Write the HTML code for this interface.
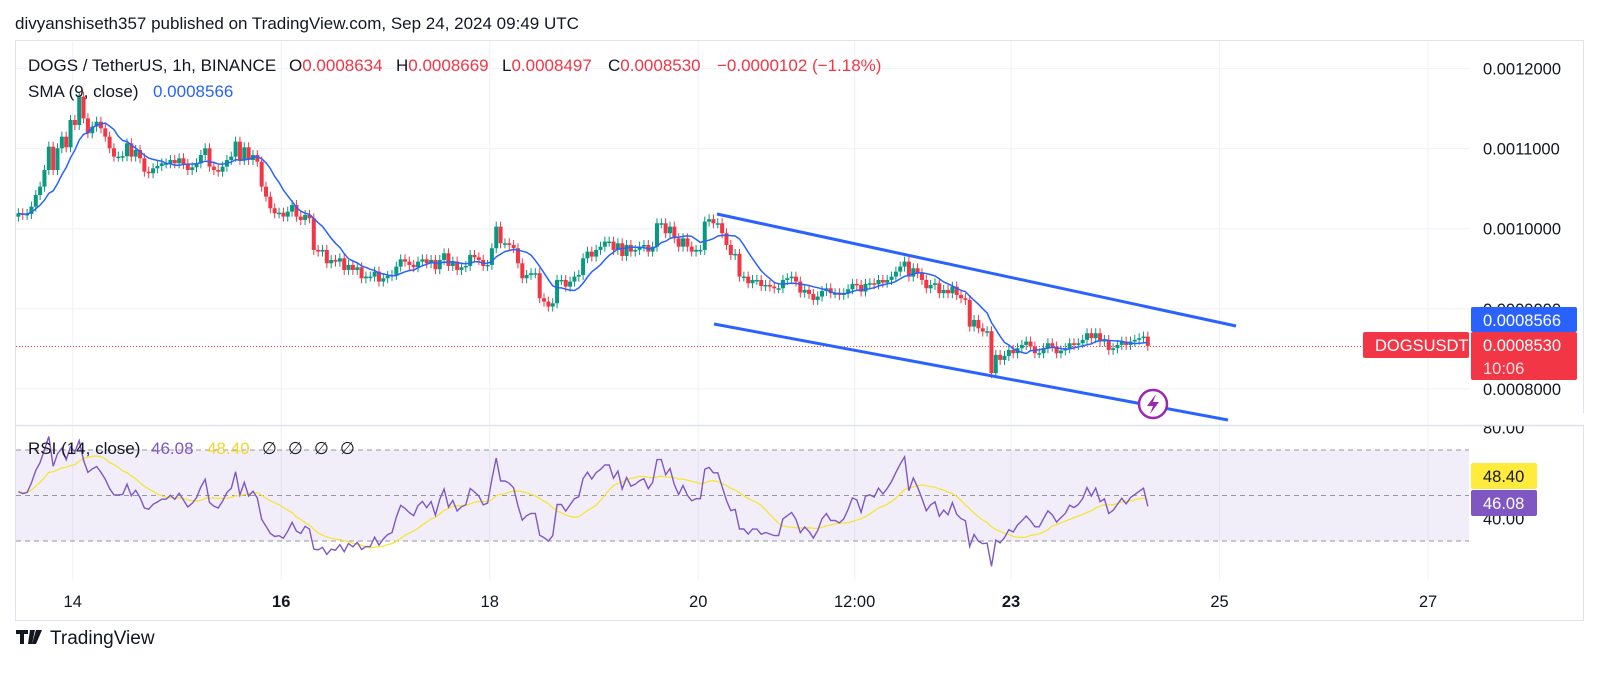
<!DOCTYPE html>
<html><head><meta charset="utf-8"><style>
html,body{margin:0;padding:0;background:#fff;}
svg{display:block;font-family:"Liberation Sans",sans-serif;}
</style></head><body>
<svg id="chart" width="1600" height="674" viewBox="0 0 1600 674" xmlns="http://www.w3.org/2000/svg">
<rect width="1600" height="674" fill="#fff"/>
<text x="15" y="29" font-size="17" fill="#131722">divyanshiseth357 published on TradingView.com, Sep 24, 2024 09:49 UTC</text>
<rect x="15.5" y="40.5" width="1568" height="580" fill="none" stroke="#e0e3eb"/>
<g id="grid"></g>
<rect x="16" y="450" width="1453" height="91" fill="rgba(126,87,194,0.1)"/>
<g id="rsiLevels"></g>
<line x1="15" y1="425.5" x2="1584" y2="425.5" stroke="#e0e3eb" stroke-width="1.5"/>
<g id="candles"></g>
<g id="sma"></g>
<g id="rsi"></g>
<line x1="717" y1="214" x2="1236" y2="326" stroke="#2962ff" stroke-width="3"/>
<line x1="714" y1="324" x2="1228" y2="420" stroke="#2962ff" stroke-width="3"/>
<g>
<circle cx="1153" cy="404" r="14" fill="#fff" stroke="#9c27b0" stroke-width="2.5"/>
<path d="M1156 394 L1147 406 L1153 406 L1150 414 L1159 402 L1153 402 Z" fill="#9c27b0"/>
</g>
<g id="axis"></g>
<text y="71" font-size="17" fill="#131722"><tspan x="28">DOGS / TetherUS, 1h, BINANCE</tspan><tspan x="289">O</tspan><tspan fill="#f23645">0.0008634</tspan><tspan x="396">H</tspan><tspan fill="#f23645">0.0008669</tspan><tspan x="502">L</tspan><tspan fill="#f23645">0.0008497</tspan><tspan x="608">C</tspan><tspan fill="#f23645">0.0008530</tspan><tspan x="717" fill="#f23645">−0.0000102 (−1.18%)</tspan></text>
<text y="97" font-size="17" fill="#131722"><tspan x="28">SMA (9, close)</tspan><tspan x="153" fill="#2962ff">0.0008566</tspan></text>
<text y="454" font-size="17" fill="#131722"><tspan x="28">RSI (14, close)</tspan><tspan x="151" fill="#7e57c2">46.08</tspan><tspan x="207" fill="#f2d72c">48.40</tspan><tspan x="262">∅</tspan><tspan x="288">∅</tspan><tspan x="314">∅</tspan><tspan x="340">∅</tspan></text>
<g>
<path d="M16 630 h12 v4 h-4 v10 h-4 v-10 h-4 z M30 630 h5 l-3 14 h-4 z M36 630 h6 l-6 14 h-4 z" fill="#131722"/>
<text x="50" y="644" font-size="19" fill="#131722">TradingView</text>
</g>
</svg>
<script>
const closes = [10192,10172,10184,10276,10421,10525,10733,11024,10733,11004,11149,11016,11357,11295,11648,11378,11191,11274,11336,11253,11149,11004,10900,10900,10905,11066,10900,10983,10879,10712,10692,10754,10783,10816,10816,10858,10816,10879,10808,10733,10766,10816,10920,11004,10775,10733,10712,10775,10858,10900,11087,10858,11016,10858,10920,10837,10525,10400,10255,10192,10200,10151,10213,10296,10151,10109,10172,10130,9735,9714,9735,9568,9610,9589,9631,9485,9548,9485,9518,9381,9402,9402,9464,9340,9381,9410,9423,9527,9618,9589,
9548,9519,9589,9618,9568,9610,9494,9610,9693,9535,9589,9485,9519,9535,9672,9643,9610,9535,9548,9756,10026,9818,9818,9797,9756,9568,9381,9423,9444,9444,9132,9090,9028,9069,9360,9360,9277,9340,9402,9423,9631,9714,9652,9735,9776,9839,9839,9735,9818,9660,9797,9714,9735,9776,9797,9714,9776,10068,10068,9943,10026,9880,9776,9880,9776,9714,9735,9735,10089,10118,10068,10068,9943,9797,9672,9685,9402,9402,9319,9360,9360,9285,9298,9277,9256,9256,9360,9381,
9402,9340,9202,9236,9186,9111,9153,9223,9256,9194,9194,9173,9194,9244,9311,9298,9215,9311,9319,9306,9360,9327,9360,9402,9464,9527,9589,9402,9506,9444,9360,9256,9298,9319,9194,9236,9194,9277,9173,9132,9111,8778,8861,8757,8716,8720,8196,8424,8362,8412,8487,8445,8508,8549,8591,8528,8445,8445,8508,8570,8528,8445,8479,8508,8570,8549,8570,8612,8695,8633,8695,8591,8612,8487,8508,8549,8591,8549,8591,8612,8633,8653,8537];
const firstOpen = 10150;
const startHour = -12.5;
const priceTicks = [12000,11000,10000,9000,8000];
const priceTickLabels = ["0.0012000","0.0011000","0.0010000","0.0009000","0.0008000"];
const timeTickHours = [0,48,96,144,180,216,264,312];
const timeTickLabels = ["14","16","18","20","12:00","23","25","27"];
const timeTickBold = [false,true,false,false,false,true,false,false];
const lastPrice = 8530;
const smaLast = 8566;

const NS="http://www.w3.org/2000/svg";
function yP(p){return 68.5+(12000-p)*0.0801;}
function xH(h){return 72.7+h*4.344;}
function yR(v){return 450+(70-v)*2.275;}
function mk(tag,attrs,parent){const e=document.createElementNS(NS,tag);for(const k in attrs)e.setAttribute(k,attrs[k]);parent.appendChild(e);return e;}

const grid=document.getElementById('grid');
priceTicks.forEach((p,i)=>{const l=mk('line',{x1:16,x2:1469,y1:yP(p),y2:yP(p),stroke:'#f0f3fa','stroke-width':1.2},grid);

});
timeTickHours.forEach((h,i)=>{const l=mk('line',{x1:xH(h),x2:xH(h),y1:41,y2:580,stroke:'#f0f3fa','stroke-width':1.2},grid);

});

const lv=document.getElementById('rsiLevels');
[70,50,30].forEach(v=>{const l=mk('line',{x1:16,x2:1469,y1:yR(v),y2:yR(v),stroke:'#9598a1','stroke-dasharray':'5,4','stroke-width':1},lv);

});

const pl=mk('line',{x1:16,x2:1363,y1:yP(lastPrice),y2:yP(lastPrice),stroke:'#f23645','stroke-dasharray':'1,2','stroke-width':1},grid);



const cg=document.getElementById('candles');
closes.forEach((c,i)=>{
  const o=i===0?firstOpen:closes[i-1];
  const x=xH(startHour+i);
  const up=c>=o;
  const col=up?'#089981':'#f23645';
  const top=yP(Math.max(o,c)), bot=yP(Math.min(o,c));
  const g=mk('g',{},cg);
  
  
  mk('line',{x1:x,x2:x,y1:top-5,y2:bot+5,stroke:col,'stroke-width':1},g);
  mk('rect',{x:x-2,y:top,width:4,height:Math.max(1.5,bot-top),fill:col},g);
});

const sma=[];
for(let i=0;i<closes.length;i++){const s=closes.slice(Math.max(0,i-8),i+1);sma.push(s.reduce((a,b)=>a+b,0)/s.length);}
const sp=mk('path',{d:sma.map((v,i)=>(i?'L':'M')+xH(startHour+i).toFixed(1)+' '+yP(v).toFixed(1)).join(' '),fill:'none',stroke:'#2962ff','stroke-width':1.5},document.getElementById('sma'));



// RSI 14 (Wilder), warmed-up averages
const rsi=[];let ag=45,al=45;
for(let i=0;i<closes.length;i++){
  const prev=i===0?firstOpen:closes[i-1];const ch=closes[i]-prev;
  const g=Math.max(ch,0),l=Math.max(-ch,0);
  ag=(ag*13+g)/14;al=(al*13+l)/14;
  rsi.push(al===0?100:100-100/(1+ag/al));
}
const rma=[];
for(let i=0;i<rsi.length;i++){const s=rsi.slice(Math.max(0,i-13),i+1);rma.push(s.reduce((a,b)=>a+b,0)/s.length);}
const rg=document.getElementById('rsi');
const clamp=v=>Math.min(Math.max(yR(v),428),578);
const rmaP=mk('path',{d:rma.map((v,i)=>(i?'L':'M')+xH(startHour+i).toFixed(1)+' '+clamp(v).toFixed(1)).join(' '),fill:'none',stroke:'#f7e43a','stroke-width':1.3},rg);


const rP=mk('path',{d:rsi.map((v,i)=>(i?'L':'M')+xH(startHour+i).toFixed(1)+' '+clamp(v).toFixed(1)).join(' '),fill:'none',stroke:'#7e57c2','stroke-width':1.4},rg);



const ax=document.getElementById('axis');
priceTicks.forEach((p,i)=>{const t=mk('text',{x:1483,y:yP(p)+6,'font-size':16.5,fill:'#131722'},ax);t.textContent=priceTickLabels[i];

});
timeTickHours.forEach((h,i)=>{const t=mk('text',{x:xH(h),y:607,'font-size':16.5,fill:'#131722','text-anchor':'middle','font-weight':timeTickBold[i]?'bold':'normal'},ax);t.textContent=timeTickLabels[i];

});
[[80,'80.00'],[40,'40.00']].forEach(a=>{const t=mk('text',{x:1483,y:yR(a[0])+6,'font-size':16.5,fill:'#131722'},ax);t.textContent=a[1];

});
const sep=mk('rect',{x:1469,y:413,width:115,height:12,fill:'#fff'},ax);


const sep2=mk('line',{x1:1469,x2:1584,y1:425.5,y2:425.5,stroke:'#e0e3eb','stroke-width':1.5},ax);



function badge(name,x,y,w,h,fill,txt,tc,extra){
  const g=mk('g',{},ax);
  
  
  mk('rect',{x:x,y:y,width:w,height:h,rx:2,fill:fill},g);
  const t=mk('text',{x:x+12,y:y+19,'font-size':16.5,fill:tc},g);t.textContent=txt;
  if(extra){const t2=mk('text',{x:x+12,y:y+42,'font-size':16.5,fill:'#fde0e3'},g);t2.textContent=extra;}
}
badge('sma-price-badge',1471,307,106,25,'#2962ff',(smaLast/1e7).toFixed(7),'#fff');
badge('last-price-badge',1471,332,106,48,'#f23645',(lastPrice/1e7).toFixed(7),'#fff','10:06');
badge('symbol-badge',1363,332,106,26,'#f23645','DOGSUSDT','#fff');
badge('rsi-ma-badge',1471,463,66,26,'#ffeb3b','48.40','#131722');
badge('rsi-badge',1471,490,66,26,'#7e57c2','46.08','#fff');
</script>
</body></html>
